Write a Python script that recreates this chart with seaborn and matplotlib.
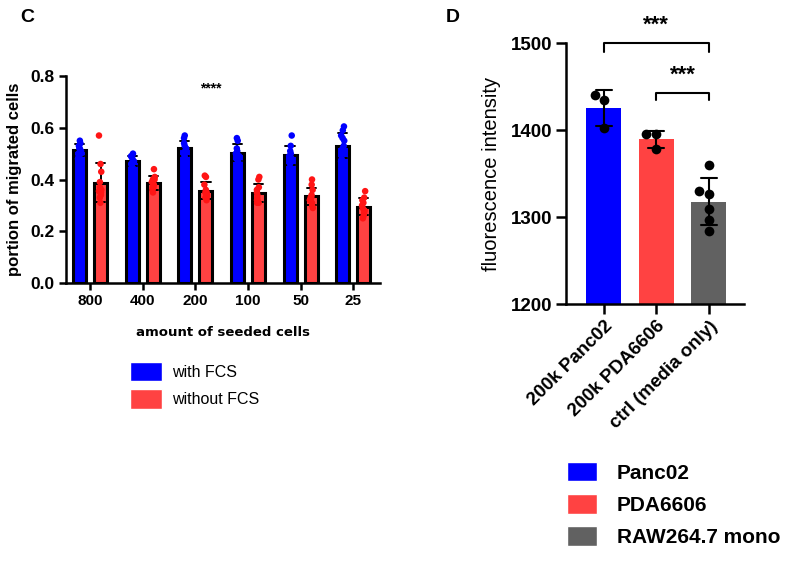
import matplotlib
matplotlib.use("Agg")
import numpy as np
import pandas as pd
import matplotlib.pyplot as plt
import seaborn as sns
from matplotlib.patches import Patch

# panel C: portion of migrated cells per seeding density
seeded = ["800", "400", "200", "100", "50", "25"]
with_fcs = [
    [0.55, 0.54, 0.53, 0.52, 0.51, 0.50, 0.50, 0.49, 0.48, 0.52],
    [0.50, 0.49, 0.49, 0.48, 0.47, 0.46, 0.46, 0.45, 0.44, 0.47],
    [0.57, 0.56, 0.54, 0.53, 0.52, 0.51, 0.50, 0.50, 0.49, 0.48],
    [0.56, 0.55, 0.52, 0.51, 0.50, 0.50, 0.49, 0.48, 0.47, 0.46],
    [0.57, 0.53, 0.51, 0.50, 0.49, 0.48, 0.48, 0.47, 0.46, 0.44],
    [0.605, 0.59, 0.57, 0.56, 0.55, 0.53, 0.52, 0.50, 0.48, 0.46, 0.47],
]
without_fcs = [
    [0.57, 0.46, 0.43, 0.39, 0.36, 0.35, 0.355, 0.34, 0.33, 0.31, 0.37],
    [0.44, 0.41, 0.40, 0.40, 0.39, 0.38, 0.37, 0.37, 0.36, 0.35],
    [0.415, 0.41, 0.38, 0.36, 0.35, 0.35, 0.34, 0.34, 0.33, 0.33, 0.32],
    [0.41, 0.40, 0.37, 0.36, 0.35, 0.34, 0.33, 0.32, 0.31, 0.31, 0.32],
    [0.40, 0.38, 0.36, 0.34, 0.33, 0.33, 0.32, 0.32, 0.31, 0.30, 0.29],
    [0.355, 0.33, 0.32, 0.31, 0.30, 0.29, 0.28, 0.27, 0.26, 0.25, 0.28],
]
conditions = ["with FCS", "without FCS"]

# panel D: fluorescence intensity
groups_d = ["200k Panc02", "200k PDA6606", "ctrl (media only)"]
panc02 = [1440, 1434, 1402]
pda6606 = [1395, 1395, 1378]
raw_mono = [1360, 1330, 1327, 1309, 1297, 1284]
legend_d = ["Panc02", "PDA6606", "RAW264.7 mono"]

BLUE = "#0000FF"
RED = "#FF4242"
RED_DOT = "#FF1515"
GRAY = "#616161"

sns.set_theme(style="ticks")
plt.rcParams["font.family"] = ["Liberation Sans", "DejaVu Sans"]
plt.rcParams["text.color"] = "black"
plt.rcParams["axes.labelcolor"] = "black"
plt.rcParams["xtick.color"] = "black"
plt.rcParams["ytick.color"] = "black"
plt.rcParams["axes.edgecolor"] = "black"

rows = []
for label, vals in zip(seeded, with_fcs):
    rows += [{"seeded": label, "condition": conditions[0], "portion": v} for v in vals]
for label, vals in zip(seeded, without_fcs):
    rows += [{"seeded": label, "condition": conditions[1], "portion": v} for v in vals]
df_c = pd.DataFrame(rows)

df_d = pd.DataFrame(
    [{"group": groups_d[0], "value": v} for v in panc02]
    + [{"group": groups_d[1], "value": v} for v in pda6606]
    + [{"group": groups_d[2], "value": v} for v in raw_mono]
)

fig = plt.figure(figsize=(7.96, 5.63), dpi=100)
ax1 = fig.add_axes([0.0829, 0.4973, 0.3945, 0.3677])
ax2 = fig.add_axes([0.711, 0.46, 0.2236, 0.4636])

# ---- panel C
sns.barplot(
    data=df_c, x="seeded", y="portion", hue="condition",
    order=seeded, hue_order=conditions,
    palette={conditions[0]: BLUE, conditions[1]: RED}, saturation=1,
    errorbar="sd", capsize=0.35,
    err_kws={"color": "black", "linewidth": 1.4},
    edgecolor="black", linewidth=2.2, width=0.8, gap=0.38,
    legend=False, ax=ax1,
)
np.random.seed(3)
sns.stripplot(
    data=df_c, x="seeded", y="portion", hue="condition",
    order=seeded, hue_order=conditions, dodge=True, jitter=0.07,
    palette={conditions[0]: BLUE, conditions[1]: RED_DOT},
    size=4.7, linewidth=0, legend=False, ax=ax1,
)
ax1.set_ylim(0, 0.8)
ax1.set_xlim(-0.46, 5.51)
ax1.set_yticks([0.0, 0.2, 0.4, 0.6, 0.8])
ax1.set_yticklabels(["0.0", "0.2", "0.4", "0.6", "0.8"])
ax1.set_ylabel("portion of migrated cells", fontsize=12, fontweight="bold", labelpad=6)
ax1.set_xlabel("amount of seeded cells", fontsize=9.5, fontweight="bold",
               family="DejaVu Sans", labelpad=13)
ax1.tick_params(axis="both", width=1.8, length=5, pad=3)
ax1.tick_params(axis="y", labelsize=12.5)
ax1.tick_params(axis="x", labelsize=11)
for lab in ax1.get_xticklabels() + ax1.get_yticklabels():
    lab.set_fontweight("bold")
for side in ["left", "bottom"]:
    ax1.spines[side].set_linewidth(1.8)
sns.despine(ax=ax1)
ax1.text(2.3, 0.75, "****", ha="center", va="center", fontsize=10, fontweight="bold")

fig.legend(
    handles=[Patch(facecolor=BLUE, label=conditions[0]),
             Patch(facecolor=RED, label=conditions[1])],
    loc="upper left", bbox_to_anchor=(130 / 796, 1 - 362 / 563),
    frameon=False, fontsize=11.5, handlelength=2.0, handleheight=1.5,
    handletextpad=0.65, labelspacing=0.5, borderpad=0, borderaxespad=0,
)

# ---- panel D
sns.barplot(
    data=df_d, x="group", y="value", hue="group", order=groups_d,
    palette=[BLUE, RED, GRAY], saturation=1, errorbar="sd", capsize=0.3,
    err_kws={"color": "black", "linewidth": 1.5},
    width=0.67, linewidth=0, legend=False, ax=ax2,
)
sns.swarmplot(data=df_d, x="group", y="value", order=groups_d,
              color="black", size=7, ax=ax2)
ax2.set_ylim(1200, 1500)
ax2.set_xlim(-0.72, 2.67)
ax2.set_yticks([1200, 1300, 1400, 1500])
ax2.set_xlabel("")
ax2.set_ylabel("fluorescence intensity", fontsize=14.5, labelpad=7)
ax2.tick_params(axis="both", labelsize=13.5, width=1.8, length=7, pad=3)
ax2.set_xticks(range(3))
ax2.set_xticklabels(groups_d, rotation=45, ha="right", rotation_mode="anchor")
for lab in ax2.get_xticklabels() + ax2.get_yticklabels():
    lab.set_fontweight("bold")
for side in ["left", "bottom"]:
    ax2.spines[side].set_linewidth(1.8)
sns.despine(ax=ax2)

ax2.plot([0, 0, 2, 2], [1490, 1500, 1500, 1490], color="black", lw=1.5, clip_on=False)
ax2.text(1, 1521, "***", ha="center", va="center", fontsize=16, fontweight="bold")
ax2.plot([1, 1, 2, 2], [1434, 1442, 1442, 1434], color="black", lw=1.5, clip_on=False)
ax2.text(1.5, 1463, "***", ha="center", va="center", fontsize=16, fontweight="bold")

fig.legend(
    handles=[Patch(facecolor=c, label=l) for c, l in zip([BLUE, RED, GRAY], legend_d)],
    loc="upper left", bbox_to_anchor=(567 / 796, 1 - 462 / 563),
    frameon=False, prop={"size": 15, "weight": "bold"},
    handlelength=1.45, handleheight=1.05, handletextpad=0.95,
    labelspacing=0.55, borderpad=0, borderaxespad=0,
)

fig.text(27 / 796, 1 - 17 / 563, "C", fontsize=14, fontweight="bold", ha="center", va="center")
fig.text(453 / 796, 1 - 18 / 563, "D", fontsize=14, fontweight="bold", ha="center", va="center")

fig.savefig("out.png", dpi=100, facecolor="white")
